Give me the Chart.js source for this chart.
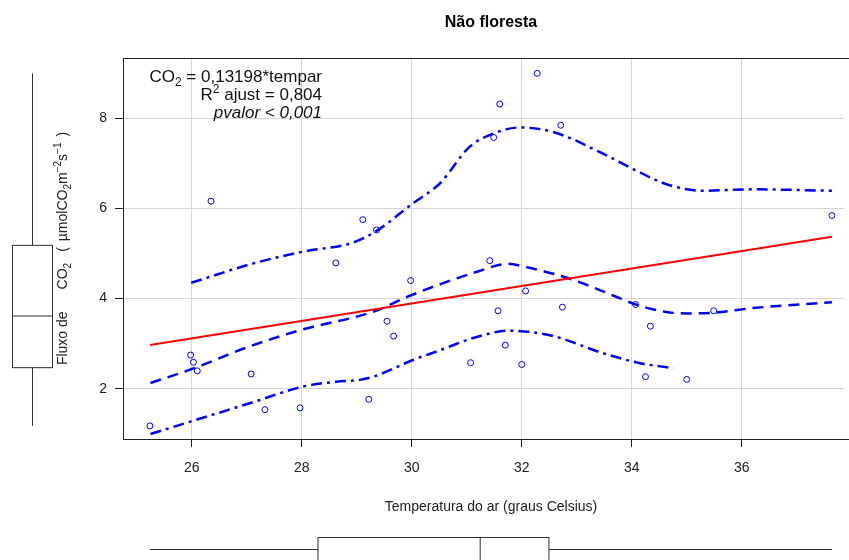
<!DOCTYPE html>
<html lang="pt">
<head>
<meta charset="utf-8">
<title>Não floresta</title>
<script src="https://cdn.jsdelivr.net/npm/chart.js@4/dist/chart.umd.min.js"></script>
<style>
  html, body { margin: 0; padding: 0; background: #fff; }
  canvas { display: block; }
</style>
</head>
<body>
<canvas id="chart" width="849" height="560"></canvas>
<script>
// observations (air temperature, CO2 flux)
const tempAr = [25.24, 25.98, 26.03, 26.10, 26.35, 27.08, 27.33, 27.97, 28.62, 29.11, 29.22,
  29.36, 29.55, 29.67, 29.98, 31.07, 31.42, 31.49, 31.57, 31.60, 31.70, 32.00, 32.07, 32.28,
  32.71, 32.74, 34.07, 34.25, 34.34, 35.00, 35.49, 37.64];
const fluxoCO2 = [1.18, 2.75, 2.59, 2.40, 6.16, 2.33, 1.54, 1.58, 4.79, 5.75, 1.77,
  5.52, 3.50, 3.17, 4.40, 2.58, 4.84, 7.57, 3.73, 8.31, 2.97, 2.54, 4.17, 8.99,
  7.84, 3.81, 3.87, 2.27, 3.39, 2.21, 3.73, 5.84];

// linear fit
const fitX = [25.24, 37.64];
const fitY = [2.97, 5.37];

// smoother and its spread
const loessX = [25.25, 26.0, 27.05, 28.0, 29.3, 30.0, 31.2, 31.75, 32.0, 32.9, 33.5, 34.1, 34.6, 35.0, 35.5, 36.2, 37.64];
const loessY = [2.13, 2.44, 2.94, 3.31, 3.71, 4.08, 4.60, 4.77, 4.72, 4.43, 4.15, 3.86, 3.71, 3.67, 3.69, 3.79, 3.92];
const upperX = [25.99, 27.12, 28.02, 28.93, 29.36, 30.02, 30.51, 31.05, 31.49, 31.96, 32.57, 33.48, 34.09, 34.69, 35.3, 36.21, 37.64];
const upperY = [4.35, 4.78, 5.04, 5.24, 5.50, 6.11, 6.55, 7.36, 7.66, 7.79, 7.69, 7.21, 6.83, 6.51, 6.39, 6.42, 6.39];
const lowerX = [25.25, 25.99, 27.1, 28.02, 28.63, 29.05, 29.3, 30.02, 30.5, 31.15, 31.78, 32.57, 33.48, 34.15, 34.76];
const lowerY = [1.00, 1.28, 1.70, 2.05, 2.16, 2.20, 2.27, 2.64, 2.85, 3.14, 3.29, 3.17, 2.79, 2.57, 2.46];

const xTicks = [26, 28, 30, 32, 34, 36];
const yTicks = [2, 4, 6, 8];

const FONT = '"Liberation Sans", Arial, Helvetica, sans-serif';
const INK = '#222';

const toXY = (xs, ys) => xs.map((x, i) => ({ x: x, y: ys[i] }));

// R style boxplot stats: whisker ends, hinges, median
function boxStats(values) {
  const s = values.slice().sort((a, b) => a - b);
  const n = s.length;
  const n4 = Math.floor((n + 3) / 2) / 2;
  const d = [1, n4, (n + 1) / 2, n + 1 - n4, n];
  const f = d.map(p => 0.5 * (s[Math.floor(p) - 1] + s[Math.ceil(p) - 1]));
  const iqr = f[3] - f[1];
  const lo = s.find(v => v >= f[1] - 1.5 * iqr);
  const hi = s.slice().reverse().find(v => v <= f[3] + 1.5 * iqr);
  return [lo, f[1], f[2], f[3], hi];
}

// text with sub/superscripts, {gap: px} adds blank space
function drawRich(ctx, parts, x, y, size, align) {
  const small = Math.round(size * 0.72);
  const fontOf = p => (p.italic ? 'italic ' : '') + (p.sub || p.sup ? small : size) + 'px ' + FONT;
  let w = 0;
  parts.forEach(p => {
    ctx.font = fontOf(p);
    p.w = p.gap !== undefined ? p.gap : ctx.measureText(p.t).width;
    w += p.w;
  });
  let cx = align === 'right' ? x - w : align === 'center' ? x - w / 2 : x;
  ctx.textAlign = 'left';
  ctx.textBaseline = 'alphabetic';
  parts.forEach(p => {
    if (p.gap === undefined) {
      ctx.font = fontOf(p);
      const dy = p.sub ? size * 0.25 : p.sup ? -size * 0.42 : 0;
      ctx.fillText(p.t, cx, y + dy);
    }
    cx += p.w;
  });
}

function line(ctx, x1, y1, x2, y2) {
  ctx.beginPath();
  ctx.moveTo(x1, y1);
  ctx.lineTo(x2, y2);
  ctx.stroke();
}

const decorations = {
  id: 'decorations',
  afterDraw(chart) {
    const ctx = chart.ctx;
    const area = chart.chartArea;
    const xs = chart.scales.x, ys = chart.scales.y;
    ctx.save();
    ctx.fillStyle = '#000';

    // plot box: top edge, and bottom edge carried to the canvas edge
    ctx.strokeStyle = INK;
    ctx.lineWidth = 1;
    line(ctx, area.left, Math.round(area.top) + 0.5, chart.width, Math.round(area.top) + 0.5);
    line(ctx, area.right - 1, Math.round(area.bottom) + 0.5, chart.width, Math.round(area.bottom) + 0.5);

    // title
    ctx.font = 'bold 16px ' + FONT;
    ctx.textAlign = 'center';
    ctx.textBaseline = 'alphabetic';
    ctx.fillText('Não floresta', 491, 27);

    // x axis title
    ctx.fillStyle = INK;
    ctx.font = '14px ' + FONT;
    ctx.fillText('Temperatura do ar (graus Celsius)', 491, 511);

    // y axis title, rotated
    ctx.save();
    ctx.translate(67, (area.top + area.bottom) / 2);
    ctx.rotate(-Math.PI / 2);
    drawRich(ctx, [
      { t: 'Fluxo de' }, { gap: 22 }, { t: 'CO' }, { t: '2', sub: true }, { gap: 11 },
      { t: '(' }, { gap: 6 }, { t: '\u00b5molCO' }, { t: '2', sub: true }, { t: 'm' }, { t: '\u22122', sup: true },
      { t: 's' }, { t: '\u22121', sup: true }, { gap: 6 }, { t: ')' }
    ], 0, 0, 14, 'center');
    ctx.restore();

    // regression text
    ctx.fillStyle = '#111';
    drawRich(ctx, [{ t: 'CO' }, { t: '2', sub: true }, { t: ' = 0,13198*tempar' }], 322, 82, 17, 'right');
    drawRich(ctx, [{ t: 'R' }, { t: '2', sup: true }, { t: ' ajust = 0,804' }], 322, 100, 17, 'right');
    drawRich(ctx, [{ t: 'pvalor < 0,001', italic: true }], 322, 118, 17, 'right');

    // marginal boxplots
    ctx.strokeStyle = '#333';
    ctx.lineWidth = 1;
    const yb = boxStats(fluxoCO2).map(v => ys.getPixelForValue(v));
    const bx = 32.5, bh = 20;
    line(ctx, bx, yb[0], bx, yb[1]);
    line(ctx, bx, yb[3], bx, yb[4]);
    ctx.strokeRect(bx - bh, yb[3], bh * 2, yb[1] - yb[3]);
    line(ctx, bx - bh, yb[2], bx + bh, yb[2]);

    const xb = boxStats(tempAr).map(v => xs.getPixelForValue(v));
    const by = 549.5;
    line(ctx, xb[0], by, xb[1], by);
    line(ctx, xb[3], by, xb[4], by);
    ctx.strokeRect(xb[1], 537.5, xb[3] - xb[1], 24);
    line(ctx, xb[2], 537.5, xb[2], 562);

    ctx.restore();
  }
};

const chart = document.getElementById('chart').getContext('2d');

new Chart(chart, {
  type: 'scatter',
  data: {
    datasets: [
      {
        label: 'observado',
        data: toXY(tempAr, fluxoCO2),
        pointStyle: 'circle',
        pointRadius: 3,
        pointBorderWidth: 1,
        pointBorderColor: 'blue',
        pointBackgroundColor: 'rgba(0,0,0,0)',
        showLine: false,
      },
      {
        label: 'ajuste',
        data: toXY(fitX, fitY),
        showLine: true,
        borderColor: 'red',
        borderWidth: 2,
        pointRadius: 0,
        tension: 0,
      },
      {
        label: 'loess',
        data: toXY(loessX, loessY),
        showLine: true,
        borderColor: 'blue',
        borderWidth: 2.5,
        borderDash: [11, 7],
        pointRadius: 0,
        cubicInterpolationMode: 'monotone',
      },
      {
        label: 'superior',
        data: toXY(upperX, upperY),
        showLine: true,
        borderColor: 'blue',
        borderWidth: 2.5,
        borderDash: [11, 5, 3, 5],
        pointRadius: 0,
        cubicInterpolationMode: 'monotone',
      },
      {
        label: 'inferior',
        data: toXY(lowerX, lowerY),
        showLine: true,
        borderColor: 'blue',
        borderWidth: 2.5,
        borderDash: [11, 5, 3, 5],
        pointRadius: 0,
        cubicInterpolationMode: 'monotone',
      }
    ],
  },
  options: {
    responsive: false,
    animation: false,
    layout: { padding: { top: 58, right: 0, bottom: 0, left: 0 } },
    plugins: {
      legend: { display: false },
      tooltip: { enabled: false },
    },
    scales: {
      x: {
        type: 'linear',
        min: 24.75,
        max: 37.86,
        afterBuildTicks: s => { s.ticks = xTicks.map(v => ({ value: v })); },
        afterFit: s => { s.height = 121; },
        grid: { color: '#d6d6d6', tickColor: INK, tickLength: 8, lineWidth: 1 },
        border: { display: true, color: INK, width: 1 },
        ticks: { color: INK, padding: 13, font: { family: FONT, size: 14 } },
      },
      y: {
        type: 'linear',
        min: 0.89,
        max: 9.33,
        afterBuildTicks: s => { s.ticks = yTicks.map(v => ({ value: v })); },
        afterFit: s => { s.width = 123; },
        grid: { color: '#d6d6d6', tickColor: INK, tickLength: 8, lineWidth: 1 },
        border: { display: true, color: INK, width: 1 },
        ticks: { color: INK, padding: 8, font: { family: FONT, size: 14 } },
      }
    },
  },
  plugins: [decorations],
});
</script>
</body>
</html>
